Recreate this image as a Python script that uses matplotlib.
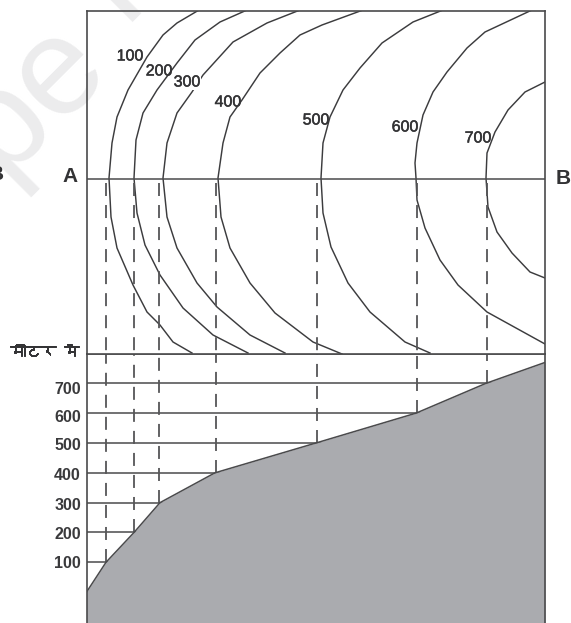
import matplotlib
matplotlib.use('Agg')
import matplotlib.pyplot as plt
import matplotlib.patheffects as pe
from matplotlib import font_manager, ft2font
from matplotlib.transforms import ScaledTranslation

W, H = 571, 623
LINE = '#4a4a4c'
GROUND = '#aaabaf'
plt.rcParams['font.family'] = ['Liberation Sans', 'DejaVu Sans']

# contours (x, y in picture pixels)
contour_levels = [100, 200, 300, 400, 500, 600, 700]
contour_100 = [(199, 10), (177, 23), (163, 35), (147, 57), (128, 90), (117, 117), (112, 143), (109, 178),
               (111, 217), (117, 248), (133, 285), (147, 312), (160, 325), (173, 342), (192, 353)]
contour_200 = [(247, 10), (220, 22), (195, 40), (177, 63), (157, 90), (143, 113), (136, 140), (134, 178),
               (137, 213), (145, 245), (160, 275), (183, 308), (213, 335), (248, 353)]
contour_300 = [(300, 10), (267, 23), (233, 42), (203, 75), (192, 92), (177, 113), (167, 143), (163, 178),
               (167, 217), (177, 248), (197, 283), (217, 307), (250, 335), (285, 353)]
contour_400 = [(363, 10), (322, 25), (300, 35), (280, 53), (260, 73), (242, 100), (230, 117), (223, 143),
               (218, 178), (221, 217), (230, 248), (250, 283), (275, 313), (313, 342), (342, 354)]
contour_500 = [(443, 10), (413, 22), (382, 43), (360, 68), (343, 90), (330, 117), (323, 143), (321, 178),
               (323, 213), (331, 247), (348, 283), (370, 312), (405, 342), (430, 353)]
contour_600 = [(532, 10), (485, 32), (467, 48), (447, 72), (433, 92), (423, 115), (417, 143), (415, 163),
               (416, 178), (417, 200), (425, 228), (440, 260), (458, 285), (487, 312), (545, 344)]
contour_700 = [(545, 82), (525, 92), (508, 110), (495, 132), (487, 153), (486, 178), (488, 207), (497, 232),
               (512, 253), (530, 272), (545, 278)]
contours = [contour_100, contour_200, contour_300, contour_400, contour_500, contour_600, contour_700]

# profile: picture x against height in metres
profile_x = [86.5, 106, 134, 160, 215, 316, 416, 486, 545]
profile_h = [0, 100, 200, 300, 400, 500, 600, 700, 770]
drop_x = [106, 134, 159, 215.5, 316.5, 416.5, 486.5]
drop_h = [100, 200, 300, 400, 500, 600, 700]
height_ticks = [100, 200, 300, 400, 500, 600, 700]
section_line_y = 178.5

left, right, top, sep = 86.5, 545, 10.5, 353.5


def axes_box(x0, y0, x1, y1):
    return [x0 / W, 1 - y1 / H, (x1 - x0) / W, (y1 - y0) / H]


def devanagari_font():
    for f in font_manager.fontManager.ttflist:
        try:
            if 0x92E in ft2font.FT2Font(f.fname).get_charmap():
                return f.name
        except Exception:
            pass
    return None


fig = plt.figure(figsize=(W / 100, H / 100), dpi=100)

# whole picture layer, for the watermark and side labels
bg = fig.add_axes([0, 0, 1, 1], zorder=0)
bg.set_xlim(0, W)
bg.set_ylim(H, 0)
bg.axis('off')
bg.text(31, 97, 'pe', fontsize=100, color='#ececed', rotation=45, ha='center', va='center', clip_on=True)
bg.text(109, -14, 'l', fontsize=100, color='#ececed', rotation=45, ha='center', va='center', clip_on=True)

# map
ax = fig.add_axes(axes_box(left, top, right, sep), zorder=2)
ax.patch.set_alpha(0)
ax.set_xlim(left, right)
ax.set_ylim(sep, top)
ax.set_xticks([])
ax.set_yticks([])
for s in ax.spines.values():
    s.set_color(LINE)
    s.set_linewidth(1.2)
for c in contours:
    ax.plot([p[0] for p in c], [p[1] for p in c], color='#3c3c3e', lw=1.05, zorder=2)
ax.axhline(section_line_y, color=LINE, lw=1.1, zorder=2)
for x in drop_x:
    ax.plot([x, x], [section_line_y + 4, sep], color='#555557', lw=1.3, dashes=(7.2, 5), zorder=2, clip_on=False)

label_x = [130, 159, 187, 228, 316, 405, 478]
label_y = [56, 71, 82, 102, 120, 127, 138]
for lev, x, y in zip(contour_levels, label_x, label_y):
    t = ax.text(x, y, str(lev), fontsize=11.5, color='#333335', ha='center', va='center', zorder=4,
                path_effects=[pe.withStroke(linewidth=0.35, foreground='#333335')])
    if lev == 300:
        t.set_bbox(dict(facecolor='white', edgecolor='none', pad=0.6))

# profile
px = fig.add_axes(axes_box(left, sep, right, H), zorder=1)
px.patch.set_alpha(0)
px.set_xlim(left, right)
px.set_ylim(-103.5, 800)
px.set_xticks([])
px.set_yticks(height_ticks)
px.set_yticklabels([str(h) for h in height_ticks], fontsize=11.5, fontweight='bold', color='#3a3a3c')
px.tick_params(axis='y', length=0, pad=4)
# upper labels sit a little below their lines in the original
label_drop = [0, 1, 1, 1, 1, 3, 5]
for lab, d in zip(px.get_yticklabels(), label_drop):
    lab.set_transform(lab.get_transform() + ScaledTranslation(0, -d / 100, fig.dpi_scale_trans))
for s in ['top', 'bottom']:
    px.spines[s].set_visible(False)
for s in ['left', 'right']:
    px.spines[s].set_color(LINE)
    px.spines[s].set_linewidth(1.2)
for h in height_ticks + [800]:
    px.axhline(h, color=LINE, lw=1.1, zorder=1)
for x, h in zip(drop_x, drop_h):
    px.plot([x, x], [h, 800], color='#555557', lw=1.3, dashes=(7.2, 5), zorder=1.5)
base = px.get_ylim()[0]
px.fill_between(profile_x, profile_h, base, color=GROUND, lw=0, zorder=2)
px.plot(profile_x, profile_h, color=LINE, lw=1.1, zorder=3)

bg.text(70, 176, 'A', fontsize=15, fontweight='bold', color='#333335', ha='center', va='center')
bg.text(563, 179, 'B', fontsize=15, fontweight='bold', color='#333335', ha='center', va='center', clip_on=True)
bg.text(-4, 174, 'B', fontsize=15, fontweight='bold', color='#333335', ha='center', va='center', clip_on=True)

deva = devanagari_font()
fam = [deva, 'DejaVu Sans'] if deva else ['Noto Sans', 'DejaVu Sans']
bg.text(79, 352, 'मीटर में', fontsize=11, family=fam, color='#333335', ha='right', va='center',
        path_effects=[pe.withStroke(linewidth=0.7, foreground='#333335')])

fig.savefig('out.png', dpi=100)
